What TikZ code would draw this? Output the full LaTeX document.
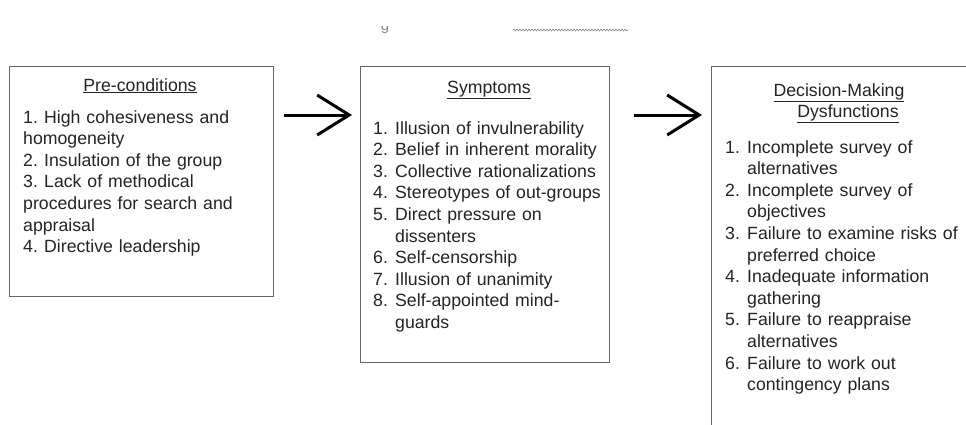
\documentclass[tikz,border=0pt]{standalone}
\usepackage{fontspec}
\setmainfont{Liberation Sans}
\usetikzlibrary{arrows.meta,decorations.pathmorphing}
\definecolor{ink}{HTML}{242424}
\definecolor{boxgray}{HTML}{666666}
\definecolor{faint}{HTML}{8A8A8A}
% numbered entries: number in a fixed-width slot, continuation lines indented
\newcommand\itm[1]{\makebox[22pt][l]{#1}}
\newcommand\cont{\hspace*{22pt}}
\newcommand\itmA[1]{\makebox[21pt][l]{#1}}
\begin{document}
\begin{tikzpicture}[x=1pt,y=-1pt,
  box/.style={draw=boxgray,line width=1.4pt,inner sep=0pt,anchor=north west},
  flow/.style={line width=3pt,-{Straight Barb[length=32pt,width=40pt,line width=3pt]}},
  list/.style={inner sep=0pt,anchor=base west,align=left,text width=260pt,text=ink,
    font=\fontsize{17.7}{21.6}\selectfont},
  head/.style={inner sep=0pt,anchor=base,text=ink,font=\fontsize{17.7}{21.6}\selectfont}]
\useasboundingbox (0,0) rectangle (966,424);
\clip (0,0) rectangle (966,424);
\fill[white] (0,0) rectangle (966,424);

% remnant of the caption line above: only the lower part of its letters survives
\begin{scope}
  \clip (370,26) rectangle (400,45);
  \node[inner sep=0pt,anchor=base,text=faint,font=\fontsize{15}{15}\selectfont] (capg) at (385,30) {g};
\end{scope}
\coordinate (wavyA) at (513,30);
\coordinate (wavyB) at (628,30);
\draw[faint,line width=0.6pt,decorate,decoration={snake,amplitude=1pt,segment length=3pt}] (wavyA) -- (wavyB);

% the three boxes
\node[box,minimum width=264pt,minimum height=230pt] (b1) at (9,66) {};
\node[box,minimum width=249pt,minimum height=296pt] (b2) at (360,66) {};
\node[box,minimum width=300pt,minimum height=420pt] (b3) at (711,66) {};

% connectors
\draw[flow] ([xshift=10pt,yshift=-49pt]b1.north east) -- ([xshift=-8pt,yshift=-49pt]b2.north west);
\draw[flow] ([xshift=24pt,yshift=-49pt]b2.north east) -- ([xshift=-9pt,yshift=-49pt]b3.north west);

% Pre-conditions
\node[head] (h1) at (140,91) {\underline{Pre-conditions}};
\node[list] (l1) at (23,123) {%
\itmA{1.}High cohesiveness and\\
homogeneity\\
\itmA{2.}Insulation of the group\\
\itmA{3.}Lack of methodical\\
procedures for search and\\
appraisal\\
\itmA{4.}Directive leadership};

% Symptoms
\node[head] (h2) at (489,93) {\underline{Symptoms}};
\node[list] (l2) at (373,134) {%
\itm{1.}Illusion of invulnerability\\
\itm{2.}Belief in inherent morality\\
\itm{3.}Collective rationalizations\\
\itm{4.}Stereotypes of out-groups\\
\itm{5.}Direct pressure on\\
\cont dissenters\\
\itm{6.}Self-censorship\\
\itm{7.}Illusion of unanimity\\
\itm{8.}Self-appointed mind-\\
\cont guards};

% Decision-Making Dysfunctions
\node[head] (h3a) at (839,96) {\underline{Decision-Making}};
\node[head] (h3b) at (848,117) {\underline{Dysfunctions}};
\node[list] (l3) at (725,153) {%
\itm{1.}Incomplete survey of\\
\cont alternatives\\
\itm{2.}Incomplete survey of\\
\cont objectives\\
\itm{3.}Failure to examine risks of\\
\cont preferred choice\\
\itm{4.}Inadequate information\\
\cont gathering\\
\itm{5.}Failure to reappraise\\
\cont alternatives\\
\itm{6.}Failure to work out\\
\cont contingency plans};
\end{tikzpicture}
\end{document}
